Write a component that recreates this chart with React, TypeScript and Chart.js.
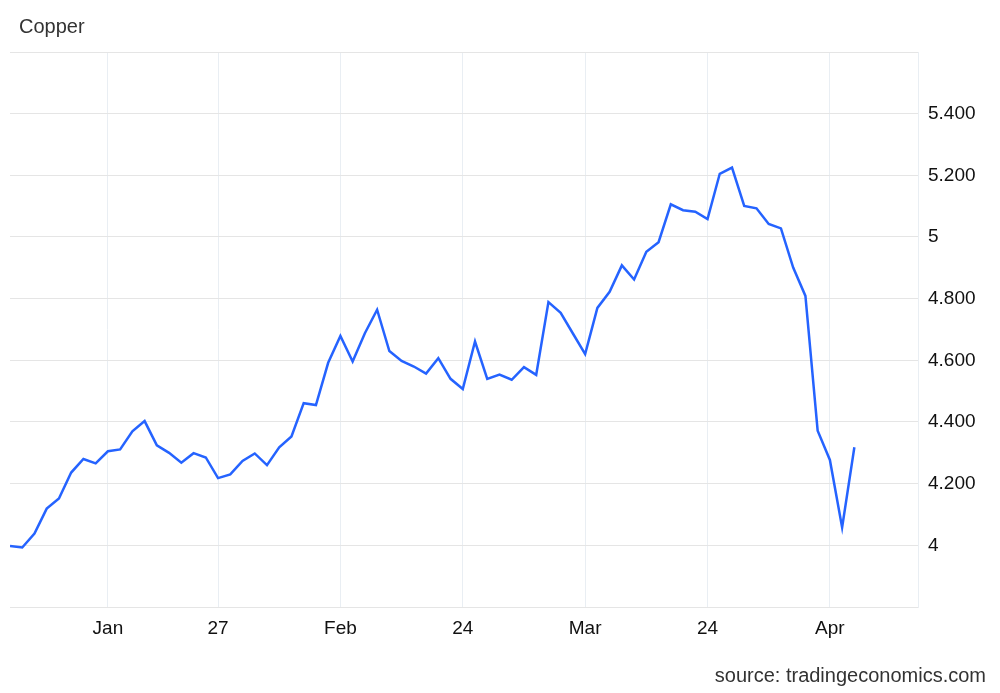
import { useEffect, useRef } from 'react';
import { Chart, registerables } from 'chart.js';

Chart.register(...registerables);

const copperPrices: number[] = [
  3.998, 3.993, 4.038, 4.119, 4.152, 4.236, 4.280, 4.266, 4.305, 4.311,
  4.370, 4.403, 4.324, 4.300, 4.268, 4.299, 4.285, 4.218, 4.230, 4.274,
  4.298, 4.260, 4.318, 4.353, 4.461, 4.455, 4.592, 4.679, 4.596, 4.688,
  4.764, 4.630, 4.598, 4.580, 4.557, 4.607, 4.540, 4.507, 4.661, 4.540,
  4.554, 4.537, 4.578, 4.553, 4.789, 4.754, 4.687, 4.620, 4.770, 4.822,
  4.908, 4.862, 4.952, 4.983, 5.106, 5.087, 5.082, 5.058, 5.205, 5.225,
  5.101, 5.093, 5.042, 5.028, 4.901, 4.809, 4.372, 4.277, 4.058, 4.318,
];

const xTickIndex: number[] = [8, 17, 27, 37, 47, 57, 67];
const xTickLabels: string[] = ['Jan', '27', 'Feb', '24', 'Mar', '24', 'Apr'];

const yTickValues: number[] = [3.8, 4.0, 4.2, 4.4, 4.6, 4.8, 5.0, 5.2, 5.4, 5.6];
const yTickLabels: string[] = ['', '4', '4.200', '4.400', '4.600', '4.800', '5', '5.200', '5.400', ''];

const FONT = '"Liberation Sans", Arial, Helvetica, sans-serif';

export default function App() {
  const canvasRef = useRef<HTMLCanvasElement | null>(null);

  useEffect(() => {
    const canvas = canvasRef.current;
    if (!canvas) return;
    const chart = new Chart(canvas, {
      type: 'line',
      data: {
        datasets: [
          {
            label: 'Copper',
            data: copperPrices.map((v, i) => ({ x: i, y: v })),
            borderColor: '#2563ff',
            borderWidth: 2.5,
            pointRadius: 0,
            tension: 0,
            fill: false,
          },
        ],
      },
      options: {
        animation: false,
        responsive: false,
        devicePixelRatio: 1,
        layout: { padding: { left: 10, top: 52, right: 0, bottom: 0 } },
        plugins: {
          legend: { display: false },
          tooltip: { enabled: false },
          title: { display: false },
        },
        scales: {
          x: {
            type: 'linear',
            min: 0,
            max: 74.2,
            afterBuildTicks: (s: any) => {
              s.ticks = xTickIndex.map((v) => ({ value: v }));
            },
            afterFit: (s: any) => {
              s.height = 86;
            },
            grid: { color: '#e9eef3', lineWidth: 1, drawTicks: false },
            border: { display: false },
            ticks: {
              autoSkip: false,
              maxRotation: 0,
              padding: 10,
              color: '#111111',
              font: { family: FONT, size: 19 },
              callback: (_v: any, i: number) => xTickLabels[i] ?? '',
            },
          },
          y: {
            type: 'linear',
            position: 'right',
            min: 3.8,
            max: 5.6,
            afterBuildTicks: (s: any) => {
              s.ticks = yTickValues.map((v) => ({ value: v }));
            },
            afterFit: (s: any) => {
              s.width = 82;
            },
            grid: { color: '#e5e5e5', lineWidth: 1, drawTicks: false },
            border: { display: true, color: '#e9eef3', width: 1 },
            ticks: {
              padding: 10,
              color: '#111111',
              font: { family: FONT, size: 19 },
              callback: (_v: any, i: number) => yTickLabels[i] ?? '',
            },
          },
        },
      },
    });
    return () => chart.destroy();
  }, []);

  return (
    <div style={{ position: 'fixed', left: 0, top: 0, width: 1000, height: 693, background: '#fff' }}>
      <canvas ref={canvasRef} width={1000} height={693} style={{ display: 'block', width: 1000, height: 693 }} />
      <div
        style={{
          position: 'absolute',
          left: 19,
          top: 16,
          fontFamily: FONT,
          fontSize: 20,
          lineHeight: '20px',
          color: '#333333',
        }}
      >
        Copper
      </div>
      <div
        style={{
          position: 'absolute',
          right: 14,
          top: 665,
          fontFamily: FONT,
          fontSize: 20,
          lineHeight: '20px',
          color: '#333333',
        }}
      >
        source: tradingeconomics.com
      </div>
    </div>
  );
}
